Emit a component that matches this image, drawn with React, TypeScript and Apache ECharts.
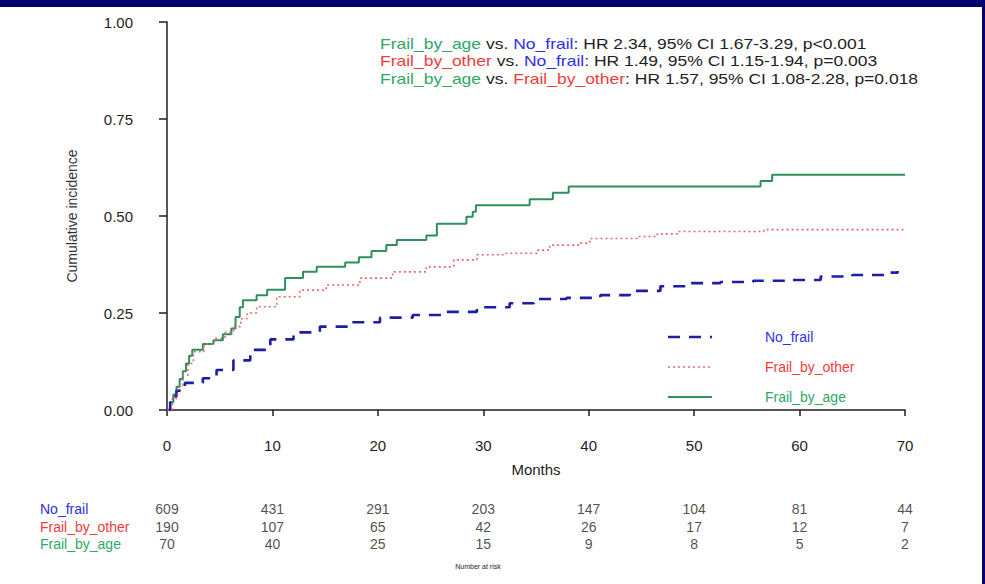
import React, { useEffect, useRef } from "react";
import * as echarts from "echarts";

// ---- data ----
const noFrail: [number, number][] = [
  [0, 0], [0.3, 0.02], [0.6, 0.035], [0.9, 0.05], [1.7, 0.07], [3.4, 0.082], [4.7, 0.103],
  [6.3, 0.128], [7.9, 0.155], [9.8, 0.182], [12, 0.2], [14.5, 0.215], [17.4, 0.226],
  [20.2, 0.238], [23.3, 0.245], [26.5, 0.253], [29.4, 0.265], [32.5, 0.275], [34.8, 0.286],
  [37.9, 0.289], [41.1, 0.296], [43.9, 0.307], [46.8, 0.319], [49.6, 0.327], [52.5, 0.33],
  [55.6, 0.333], [58.8, 0.335], [62, 0.344], [65, 0.348], [68.6, 0.354], [69.3, 0.358],
];
const frailByOther: [number, number][] = [
  [0, 0], [0.5, 0.03], [1, 0.06], [1.5, 0.09], [2, 0.12], [2.5, 0.15], [3.5, 0.17],
  [4.5, 0.185], [5.5, 0.2], [6.3, 0.215], [7, 0.235], [7.6, 0.25], [8.5, 0.266],
  [10.4, 0.292], [12.6, 0.309], [15.1, 0.322], [18.3, 0.34], [21.4, 0.356], [24.6, 0.369],
  [27.2, 0.387], [29.4, 0.4], [31.9, 0.404], [35.1, 0.412], [36.3, 0.425], [39.2, 0.43],
  [40.1, 0.442], [44.6, 0.447], [46.5, 0.454], [48.4, 0.46], [56.6, 0.465], [70, 0.465],
];
const frailByAge: [number, number][] = [
  [0, 0], [0.3, 0.02], [0.6, 0.04], [0.9, 0.06], [1.2, 0.08], [1.5, 0.1], [1.8, 0.12],
  [2.1, 0.14], [2.4, 0.155], [3.4, 0.17], [4.4, 0.18], [5.3, 0.195], [6.1, 0.21],
  [6.5, 0.24], [6.9, 0.265], [7.2, 0.283], [8.5, 0.296], [9.5, 0.31], [11.2, 0.34],
  [12.9, 0.356], [14.2, 0.369], [16.9, 0.38], [18.2, 0.394], [19.4, 0.41], [20.8, 0.425],
  [21.8, 0.438], [24.6, 0.45], [25.6, 0.48], [28.4, 0.498], [29, 0.511], [29.3, 0.528],
  [34.4, 0.543], [36.6, 0.56], [38.1, 0.576], [56.3, 0.59], [57.4, 0.606], [70, 0.606],
];

const groupNames = ["No_frail", "Frail_by_other", "Frail_by_age"];
const riskTimes = [0, 10, 20, 30, 40, 50, 60, 70];
const riskNoFrail = [609, 431, 291, 203, 147, 104, 81, 44];
const riskFrailByOther = [190, 107, 65, 42, 26, 17, 12, 7];
const riskFrailByAge = [70, 40, 25, 15, 9, 8, 5, 2];
const yTicks = [0, 0.25, 0.5, 0.75, 1];

const BLUE_TXT = "#2f2fe8";
const RED_TXT = "#f23c3c";
const GREEN_TXT = "#2fa865";
const DARK = "#1e1e1e";

const BLUE_LINE = "#1d1da6";
const RED_LINE = "#e46a6a";
const GREEN_LINE = "#2f8f5c";

export default function App() {
  const ref = useRef<HTMLDivElement>(null);
  useEffect(() => {
    document.body.style.margin = "0";
    const chart = echarts.init(ref.current!, null, { renderer: "svg" });
    const riskRows = [riskNoFrail, riskFrailByOther, riskFrailByAge];
    const rowColors = [BLUE_TXT, RED_TXT, GREEN_TXT];
    const font = "Liberation Sans, Arial, sans-serif";

    const riskSeries = riskRows.map((row, r) => ({
      type: "scatter",
      name: "risk_" + groupNames[r],
      xAxisIndex: 1,
      yAxisIndex: 1,
      symbolSize: 1,
      itemStyle: { color: "rgba(0,0,0,0)" },
      silent: true,
      data: riskTimes.map((t, i) => [t, r, row[i]]),
      label: {
        show: true,
        position: "inside",
        formatter: (p: any) => String(p.value[2]),
        color: DARK,
        fontSize: 14,
        fontFamily: font,
      },
      labelLayout: { hideOverlap: false },
    }));

    const annot = (y: number, parts: [string, string][]) => ({
      type: "text",
      x: 380,
      y,
      scaleX: 1.25,
      style: {
        text: parts.map(([k, t]) => `{${k}|${t}}`).join(""),
        font: `14px ${font}`,
        verticalAlign: "middle",
        rich: {
          g: { fill: GREEN_TXT, fontSize: 14, fontFamily: font },
          r: { fill: RED_TXT, fontSize: 14, fontFamily: font },
          b: { fill: BLUE_TXT, fontSize: 14, fontFamily: font },
          k: { fill: DARK, fontSize: 14, fontFamily: font },
        },
      },
    });

    const legendRows = [
      { y: 337, color: BLUE_LINE, width: 2.6, dash: [12, 9] },
      { y: 367, color: RED_LINE, width: 1.6, dash: [2, 3] },
      { y: 397, color: GREEN_LINE, width: 2, dash: null },
    ];
    const legendGraphics: any[] = [];
    legendRows.forEach((lr, i) => {
      legendGraphics.push({
        type: "line",
        shape: { x1: 668, y1: lr.y, x2: 712, y2: lr.y },
        style: { stroke: lr.color, lineWidth: lr.width, lineDash: lr.dash || undefined },
      });
      legendGraphics.push({
        type: "text",
        x: 765,
        y: lr.y,
        style: {
          text: groupNames[i],
          fill: rowColors[i],
          font: `14px ${font}`,
          verticalAlign: "middle",
        },
      });
    });

    const rich: any = {};
    rowColors.forEach((c, i) => {
      rich["c" + i] = { color: c, width: 120, align: "left", fontSize: 14, fontFamily: font };
    });

    chart.setOption({
      animation: false,
      backgroundColor: "#ffffff",
      textStyle: { fontFamily: font },
      grid: [
        { left: 167, right: 80, top: 22, bottom: 174 },
        { left: 167, right: 80, top: 500, height: 53 },
      ],
      xAxis: [
        {
          type: "value",
          gridIndex: 0,
          min: 0,
          max: 70,
          interval: 10,
          name: "Months",
          nameLocation: "middle",
          nameGap: 52,
          nameTextStyle: { color: DARK, fontSize: 15, fontFamily: font },
          axisLine: { lineStyle: { color: DARK, width: 1.5 } },
          axisTick: { show: true, length: 6, lineStyle: { color: DARK, width: 1.5 } },
          axisLabel: { color: DARK, fontSize: 15, margin: 28, fontFamily: font },
          splitLine: { show: false },
        },
        {
          type: "value",
          gridIndex: 1,
          min: 0,
          max: 70,
          interval: 10,
          show: false,
        },
      ],
      yAxis: [
        {
          type: "value",
          gridIndex: 0,
          min: yTicks[0],
          max: yTicks[yTicks.length - 1],
          interval: 0.25,
          name: "Cumulative incidence",
          nameLocation: "middle",
          nameGap: 88,
          nameTextStyle: { color: "#333", fontSize: 14, fontFamily: font },
          axisLine: { show: true, lineStyle: { color: DARK, width: 1.5 } },
          axisTick: { show: true, length: 8, lineStyle: { color: DARK, width: 1.5 } },
          axisLabel: {
            color: DARK,
            fontSize: 15,
            margin: 34,
            fontFamily: font,
            formatter: (v: number) => v.toFixed(2),
          },
          splitLine: { show: false },
        },
        {
          type: "category",
          gridIndex: 1,
          inverse: true,
          data: groupNames,
          axisLine: { show: false },
          axisTick: { show: false },
          splitLine: { show: false },
          axisLabel: {
            interval: 0,
            align: "right",
            margin: 7,
            formatter: (v: string, i: number) => `{c${i}|${v}}`,
            rich,
          },
        },
      ],
      series: [
        {
          type: "line",
          name: "No_frail",
          step: "end",
          symbol: "none",
          showSymbol: false,
          data: noFrail,
          lineStyle: { color: BLUE_LINE, width: 2.6, type: [12, 9] },
          itemStyle: { color: BLUE_LINE },
          z: 3,
        },
        {
          type: "line",
          name: "Frail_by_other",
          step: "end",
          symbol: "none",
          showSymbol: false,
          data: frailByOther,
          lineStyle: { color: RED_LINE, width: 1.6, type: [2, 3] },
          itemStyle: { color: RED_LINE },
          z: 4,
        },
        {
          type: "line",
          name: "Frail_by_age",
          step: "end",
          symbol: "none",
          showSymbol: false,
          data: frailByAge,
          lineStyle: { color: GREEN_LINE, width: 2 },
          itemStyle: { color: GREEN_LINE },
          z: 2,
        },
        ...riskSeries,
      ],
      graphic: [
        { type: "rect", left: 0, top: 0, shape: { width: 985, height: 7 }, style: { fill: "#03006b" } },
        { type: "rect", left: 982, top: 0, shape: { width: 3, height: 584 }, style: { fill: "#03006b" } },
        annot(44, [["g", "Frail_by_age"], ["k", " vs. "], ["b", "No_frail"], ["k", ": HR 2.34, 95% CI 1.67-3.29, p<0.001"]]),
        annot(61, [["r", "Frail_by_other"], ["k", " vs. "], ["b", "No_frail"], ["k", ": HR 1.49, 95% CI 1.15-1.94, p=0.003"]]),
        annot(79, [["g", "Frail_by_age"], ["k", " vs. "], ["r", "Frail_by_other"], ["k", ": HR 1.57, 95% CI 1.08-2.28, p=0.018"]]),
        ...legendGraphics,
        {
          type: "text",
          x: 478,
          y: 566,
          style: { text: "Number at risk", font: `7px ${font}`, fill: DARK, align: "center", verticalAlign: "middle" },
        },
      ],
    });
    return () => chart.dispose();
  }, []);
  return <div ref={ref} style={{ width: 985, height: 584 }} />;
}
